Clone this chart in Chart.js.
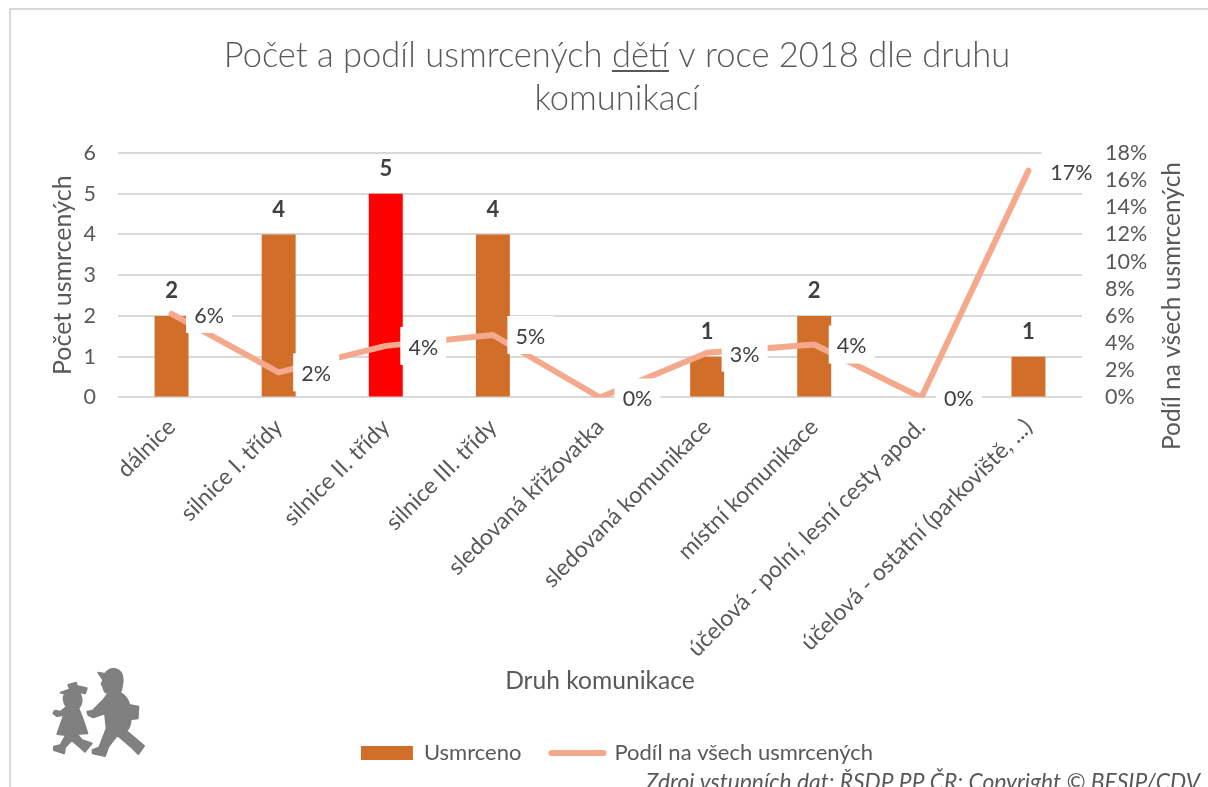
<!DOCTYPE html>
<html lang="cs"><head><meta charset="utf-8">
<style>
html,body{margin:0;padding:0;background:#fff;width:1208px;height:787px;overflow:hidden}
#wrap{position:relative;width:1208px;height:787px}
canvas{position:absolute;left:0;top:0}
#logo{position:absolute;left:40px;top:660px;width:115px;height:105px}
</style>
<script src="https://cdn.jsdelivr.net/npm/chart.js@4/dist/chart.umd.min.js"></script>
</head><body><div id="wrap"><canvas id="c" width="1208" height="787"></canvas>
<svg id="logo" viewBox="0 0 345 315"><g fill="#808080" stroke="#808080" stroke-width="6" stroke-linejoin="round">
<path d="M175 38 L195 42 Q205 25 225 27 Q248 32 248 60 Q246 88 240 98 Q262 110 268 135 L295 140 L293 175 L272 178 Q270 205 258 212 L285 235 L312 258 L295 282 L278 265 L232 225 L205 260 L195 288 L158 280 L158 270 L178 262 L200 205 L195 160 L160 172 L145 165 L142 155 L158 152 L190 120 L205 100 Q190 95 190 80 L185 72 L190 60 Z"/>
<path d="M85 75 L108 68 L110 78 L140 85 L135 100 L115 95 Q130 115 122 135 L115 145 Q125 165 142 220 L110 222 L125 240 L155 250 L135 275 L120 262 L95 240 L75 262 L72 280 L42 270 L42 260 L62 255 L78 225 L52 222 L72 165 L50 168 L40 160 L45 152 L62 155 L80 140 Q65 120 75 100 L62 98 L90 88 Z"/>
</g></svg></div>
<script>
const categories = ["dálnice","silnice I. třídy","silnice II. třídy","silnice III. třídy","sledovaná křižovatka","sledovaná komunikace","místní komunikace","účelová - polní, lesní cesty apod.","účelová - ostatní (parkoviště, ...)"];
const killed = [2,4,5,4,0,1,2,0,1];
const sharePct = [6.15,1.85,3.8,4.6,0,3.3,3.9,0,16.7];
const titleLines = ["Počet a podíl usmrcených dětí v roce 2018 dle druhu","komunikací"];
const sourceNote = "Zdroj vstupních dat: ŘSDP PP ČR; Copyright © BESIP/CDV";
const FONT = "Lato, Carlito, sans-serif";
const GREY = "#595959", BAR = "#D16E2A", RED = "#FF0000", LINE = "#F4A98C";

const decor = {
  id:"decor",
  beforeDraw(chart){
    const c = chart.ctx; c.save();
    c.fillStyle="#d9d9d9"; c.fillRect(9,8,1199,2); c.fillRect(9,8,2,779);
    c.restore();
  },
  afterDatasetsDraw(chart){
    const c = chart.ctx, bars = chart.getDatasetMeta(1).data, pts = chart.getDatasetMeta(0).data;
    c.save();
    c.textAlign="center"; c.textBaseline="middle";
    pts.forEach((p,i)=>{
      const long = sharePct[i] >= 10;
      const w = long ? 60 : 46, dx = long ? 43 : 37.5;
      c.fillStyle="#fff"; c.fillRect(p.x+dx-w/2,p.y-19,w,38);
      c.fillStyle="#404040"; c.font="21.5px "+FONT;
      c.fillText(Math.round(sharePct[i])+"%",p.x+dx,p.y+2);
    });
    c.font="bold 22px "+FONT; c.fillStyle="#404040";
    bars.forEach((b,i)=>{ if(killed[i]>0) c.fillText(String(killed[i]),b.x,b.y-25); });
    c.restore();
  },
  afterDraw(chart){
    const c = chart.ctx; c.save();
    c.font = "300 34.5px "+FONT;
    const full = c.measureText(titleLines[0]).width;
    const before = c.measureText("Počet a podíl usmrcených ").width;
    const word = c.measureText("dětí").width;
    const x0 = chart.titleBlock.left + (chart.titleBlock.width-full)/2 + before;
    c.fillStyle=GREY; c.fillRect(x0,70,word,2);
    const s = chart.options.scales.y2.title;
    c.translate(1172,306); c.rotate(-Math.PI/2);
    c.font="24.5px "+FONT; c.fillStyle=GREY; c.textAlign="center"; c.textBaseline="middle";
    c.fillText(s.text,0,0);
    c.restore();
    c.save(); c.font="italic 22.8px "+FONT; c.fillStyle=GREY; c.textAlign="right"; c.textBaseline="alphabetic";
    c.fillText(sourceNote,1200,790); c.restore();
  }
};

new Chart(document.getElementById("c"),{
  type:"bar",
  data:{labels:categories,datasets:[
    {type:"line",label:"Podíl na všech usmrcených",data:sharePct,yAxisID:"y2",borderColor:LINE,backgroundColor:LINE,borderWidth:6,pointRadius:0,tension:0,borderCapStyle:"round",borderJoinStyle:"round",order:1},
    {type:"bar",label:"Usmrceno",data:killed,yAxisID:"y",backgroundColor:killed.map((v,i)=>i===2?RED:BAR),barPercentage:0.317,categoryPercentage:1,order:2}
  ]},
  options:{
    responsive:false,animation:false,devicePixelRatio:1,
    layout:{padding:{left:26,right:0,top:0,bottom:13}},
    plugins:{
      title:{display:true,text:titleLines,color:GREY,font:{family:FONT,size:34.5,weight:"300",lineHeight:1.26},padding:{top:34,bottom:32}},
      legend:{position:"bottom",labels:{
        usePointStyle:true,pointStyleWidth:52,boxHeight:14,padding:30,color:GREY,font:{family:FONT,size:22},
        generateLabels(){return [
          {text:"Usmrceno",fillStyle:BAR,strokeStyle:BAR,lineWidth:0,pointStyle:"rect",fontColor:GREY,datasetIndex:1},
          {text:"Podíl na všech usmrcených",fillStyle:LINE,strokeStyle:LINE,lineWidth:6,lineCap:"round",pointStyle:"line",fontColor:GREY,datasetIndex:0}
        ];}
      }},
      tooltip:{enabled:false}
    },
    scales:{
      x:{
        grid:{display:false},border:{display:false},
        ticks:{color:GREY,font:{family:FONT,size:23},minRotation:45,maxRotation:45,autoSkip:false,padding:8},
        title:{display:true,text:"Druh komunikace",color:GREY,font:{family:FONT,size:24.6},padding:{top:0,bottom:16}},
        afterFit(s){s.height=314.5;}
      },
      y:{
        position:"left",min:0,max:6,
        grid:{color:"#d9d9d9",lineWidth:2,drawTicks:false},border:{display:false},
        ticks:{stepSize:1,color:GREY,font:{family:FONT,size:21.5},padding:22},
        title:{display:true,text:"Počet usmrcených",color:GREY,font:{family:FONT,size:25},padding:{top:22,bottom:0}},
        afterFit(s){s.width=92;}
      },
      y2:{
        position:"right",min:0,max:18,
        grid:{display:false,drawTicks:false},border:{display:false},
        ticks:{stepSize:2,autoSkip:false,color:GREY,font:{family:FONT,size:21.5},padding:23,callback:v=>v+"%"},
        title:{display:false,text:"Podíl na všech usmrcených"},
        afterFit(s){s.width=126;}
      }
    }
  },
  plugins:[decor]
});
</script></body></html>
